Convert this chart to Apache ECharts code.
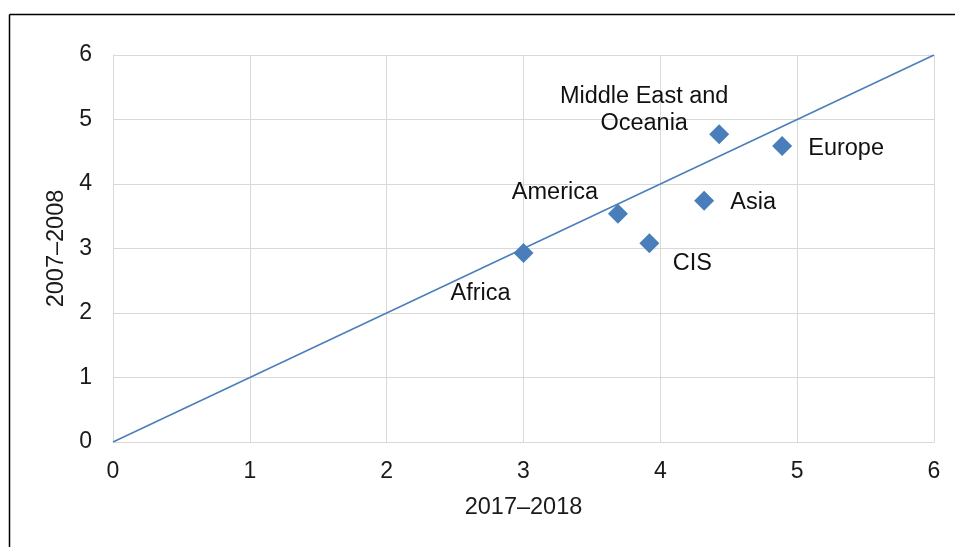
<!DOCTYPE html>
<html>
<head>
<meta charset="utf-8">
<script src="https://cdn.jsdelivr.net/npm/echarts@6/dist/echarts.min.js"></script>
<style>
html,body{margin:0;padding:0;background:#fff;}
#c{width:955px;height:547px;}
</style>
</head>
<body>
<div id="c"></div>
<script>
var regions = ["Africa", "America", "CIS", "Asia", "Middle East and\nOceania", "Europe"];
var x2017 = [3.0, 3.69, 3.92, 4.32, 4.43, 4.89];
var y2007 = [2.93, 3.54, 3.08, 3.74, 4.77, 4.59];
var refLineX = [0, 6];
var refLineY = [0, 6];
var labelOffsets = [[-43, 41], [-63, -21], [43, 20], [49, 2], [-75, -24], [64, 3]];

var chart = echarts.init(document.getElementById('c'));
var pts = regions.map(function (r, i) {
  return {
    value: [x2017[i], y2007[i]],
    name: r,
    label: { offset: labelOffsets[i] }
  };
});
var font = 'Liberation Sans, Arial, sans-serif';
chart.setOption({
  animation: false,
  backgroundColor: '#fff',
  graphic: [
    { type: 'line', shape: { x1: 9.5, y1: 14.5, x2: 955, y2: 14.5 }, style: { stroke: '#000', lineWidth: 1.5 } },
    { type: 'line', shape: { x1: 9.5, y1: 14.5, x2: 9.5, y2: 547 }, style: { stroke: '#000', lineWidth: 1.5 } }
  ],
  grid: { left: 113, right: 21, top: 55, bottom: 105, show: false },
  xAxis: {
    type: 'value', min: 0, max: 6, interval: 1,
    name: '2017–2018', nameLocation: 'middle', nameGap: 54,
    nameTextStyle: { fontFamily: font, fontSize: 23.5, color: '#1a1a1a' },
    axisLine: { show: true, lineStyle: { color: '#d9d9d9', width: 1 } },
    axisTick: { show: false },
    axisLabel: { fontFamily: font, fontSize: 23, color: '#1a1a1a', margin: 18 },
    splitLine: { show: true, lineStyle: { color: '#d9d9d9', width: 1 } }
  },
  yAxis: {
    type: 'value', min: 0, max: 6, interval: 1,
    name: '2007–2008', nameLocation: 'middle', nameGap: 40, nameRotate: 90,
    nameTextStyle: { fontFamily: font, fontSize: 23.5, color: '#1a1a1a' },
    axisLine: { show: true, lineStyle: { color: '#d9d9d9', width: 1 } },
    axisTick: { show: false },
    axisLabel: { fontFamily: font, fontSize: 23, color: '#1a1a1a', margin: 21 },
    splitLine: { show: true, lineStyle: { color: '#d9d9d9', width: 1 } }
  },
  series: [
    {
      type: 'line',
      data: refLineX.map(function (v, i) { return [v, refLineY[i]]; }),
      showSymbol: false,
      symbol: 'none',
      lineStyle: { color: '#4a7ebb', width: 1.5 },
      silent: true,
      z: 2
    },
    {
      type: 'scatter',
      data: pts,
      symbol: 'diamond',
      symbolSize: [20, 20],
      itemStyle: { color: '#4a7ebb', opacity: 1 },
      z: 3,
      label: {
        show: true,
        position: 'inside',
        formatter: '{b}',
        fontFamily: font,
        fontSize: 23.5,
        color: '#111',
        opacity: 1,
        align: 'center',
        verticalAlign: 'middle',
        lineHeight: 27
      }
    }
  ]
});
</script>
</body>
</html>
